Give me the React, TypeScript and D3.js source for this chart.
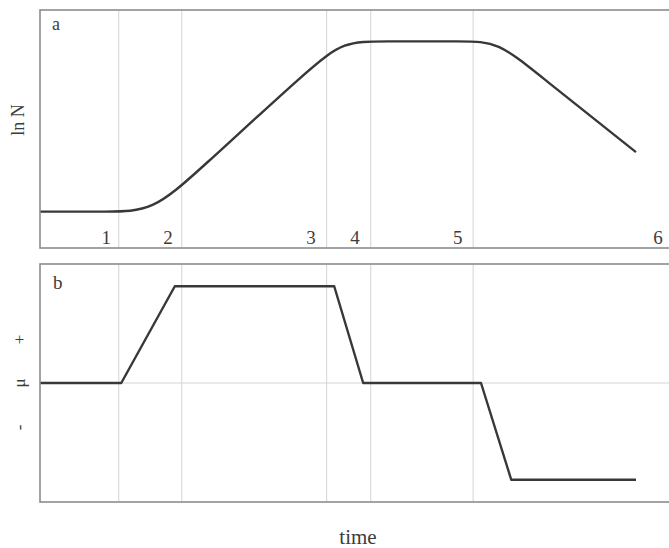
import React from 'react';
import * as d3 from 'd3';

const width = 669;
const height = 548;

// phase boundaries (time units)
const boundaries = [12.5, 22.5, 45.5, 52.5, 68.75];
const phaseLabels = ['1', '2', '3', '4', '5', '6'];
const phaseLabelT = [10.5, 20.3, 43.0, 50.0, 66.3, 98.1];

// panel a: ln N, control polygon of the smoothed growth curve
const lnNTime = [0, 11.0, 17.8, 25.0, 43.0, 48.3, 54.0, 67.5, 72.6, 79.0, 94.6];
const lnNValue = [15.3, 15.3, 15.3, 32.0, 76.0, 86.8, 86.8, 86.8, 86.8, 73.1, 40.3];

// panel b: specific growth rate mu
const muTime = [0, 12.9, 21.4, 46.7, 51.3, 70.0, 74.8, 94.6];
const muValue = [0, 0, 1, 1, 0, 0, -1, -1];

const frame = { left: 40, right: 671 };
const panelA = { top: 10, bottom: 248 };
const panelB = { top: 264, bottom: 502 };

const ink = '#383838';
const textColor = '#3c3c3c';
const font = '"Liberation Serif", "DejaVu Serif", serif';

export default function App() {
    const x = d3.scaleLinear().domain([0, 100]).range([40, 670]);
    const yA = d3.scaleLinear().domain([0, 100]).range([panelA.bottom, panelA.top]);
    const yB = d3.scaleLinear().domain([-1.23, 1.23]).range([panelB.bottom, panelB.top]);

    const lineA = d3.line<number>()
        .x((d, i) => x(lnNTime[i]))
        .y(d => yA(d))
        .curve(d3.curveBasis);
    const lineB = d3.line<number>()
        .x((d, i) => x(muTime[i]))
        .y(d => yB(d))
        .curve(d3.curveLinear);

    const box = (p: { top: number, bottom: number }) => (
        <rect x={frame.left} y={p.top} width={frame.right - frame.left} height={p.bottom - p.top}
            fill='none' stroke='#8c8c8c' strokeWidth={1.6} />
    );

    return (
        <svg width={width} height={height} style={{ position: 'absolute', left: 0, top: 0, background: '#fff' }}
            fontFamily={font}>
            {/* grid */}
            {[panelA, panelB].map((p, k) => (
                <g key={k}>
                    {boundaries.map((b, i) => (
                        <line key={i} x1={x(b)} x2={x(b)} y1={p.top} y2={p.bottom} stroke='#d4d4d4' strokeWidth={1} />
                    ))}
                </g>
            ))}
            <line x1={frame.left} x2={frame.right} y1={yB(0)} y2={yB(0)} stroke='#d4d4d4' strokeWidth={1} />

            {/* curves */}
            <path d={lineA(lnNValue) || ''} fill='none' stroke={ink} strokeWidth={2.4} strokeLinejoin='round' />
            <path d={lineB(muValue) || ''} fill='none' stroke={ink} strokeWidth={2.4} strokeLinejoin='round' />

            {box(panelA)}
            {box(panelB)}

            {/* panel letters */}
            <text x={52} y={30} fontSize={18} fill={textColor}>a</text>
            <text x={53} y={289} fontSize={19} fill={textColor}>b</text>

            {/* phase numbers */}
            {phaseLabels.map((l, i) => (
                <text key={l} x={x(phaseLabelT[i])} y={244} fontSize={19} fill={textColor} textAnchor='middle'>{l}</text>
            ))}

            {/* axis labels */}
            <text transform={`translate(24,${120}) rotate(-90)`} fontSize={18} fill={textColor} textAnchor='middle'>ln N</text>
            <text transform={`translate(25,${yB(0.45)}) rotate(-90)`} fontSize={17} fill={textColor} textAnchor='middle'>+</text>
            <text transform={`translate(25,${yB(0)}) rotate(-90)`} fontSize={17} fill={textColor} textAnchor='middle'>μ</text>
            <text transform={`translate(25,${yB(-0.46)}) rotate(-90)`} fontSize={17} fill={textColor} textAnchor='middle'>-</text>
            <text x={358} y={544} fontSize={21} fill={textColor} textAnchor='middle'>time</text>
        </svg>
    );
}
